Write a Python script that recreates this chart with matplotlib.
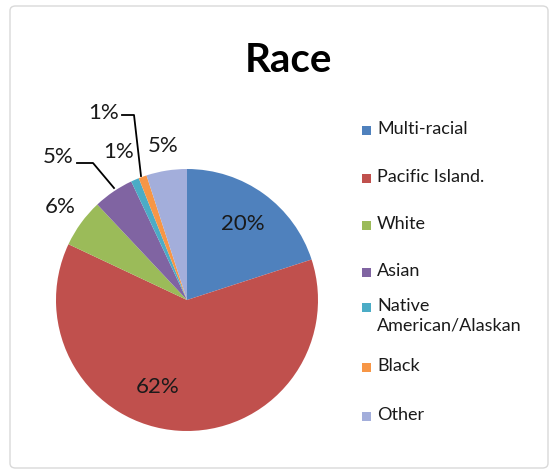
import numpy as np
import matplotlib.pyplot as plt
from matplotlib.patches import FancyBboxPatch, Rectangle

# data
races = ["Multi-racial", "Pacific Island.", "White", "Asian",
         "Native\nAmerican/Alaskan", "Black", "Other"]
shares = [20, 62, 6, 5, 1, 1, 5]
colors = ["#4F81BD", "#C0504D", "#9BBB59", "#8064A2",
          "#4BACC6", "#F79646", "#A3AEDB"]
pct_labels = ["20%", "62%", "6%", "5%", "1%", "1%", "5%"]

plt.rcParams['font.family'] = ['Lato', 'DejaVu Sans']

fig = plt.figure(figsize=(5.58, 4.74), dpi=100)
W, H = 558, 474

# light frame around the chart area
frame = FancyBboxPatch((10 / W, 6 / H), 538 / W, 462 / H,
                       boxstyle="round,pad=0,rounding_size=0.01",
                       transform=fig.transFigure, fill=False,
                       edgecolor="#D9D9D9", linewidth=1.0)
fig.patches.append(frame)

# pie: centre (187, 300) px, radius 131 px
cx, cy, r = 187, 300, 131
ax = fig.add_axes([(cx - r) / W, (H - cy - r) / H, 2 * r / W, 2 * r / H])
wedges, _ = ax.pie(shares, colors=colors, startangle=90, counterclock=False,
                   radius=1, wedgeprops=dict(linewidth=0))
ax.set_xlim(-1, 1)
ax.set_ylim(-1, 1)
ax.axis("off")


def px(x, y):
    return ((x - cx) / r, (cy - y) / r)


# label positions in pixel space (layout only)
label_pos = [(243, 224), (158, 387), (60, 207), (58, 157),
             (119, 152), (104, 113), (163, 146)]
for lab, (x, y) in zip(pct_labels, label_pos):
    ax.text(*px(x, y), lab, ha="center", va="center", fontsize=16,
            color="#1a1a1a", clip_on=False)

# leader lines for the small slices
lines = [
    [(77, 163), (93, 163), (114, 188)],   # Asian
    [(122, 115), (134, 115), (141, 176)],  # Black
]
for pts in lines:
    xs, ys = zip(*[px(a, b) for a, b in pts])
    ax.plot(xs, ys, color="black", linewidth=1.3, clip_on=False)

fig.text(288 / W, 1 - 60 / H, "Race", ha="center", va="center",
         fontsize=29, fontweight="bold")

# legend drawn by hand (Excel-style uneven spacing for the two-line entry)
leg_y = [130, 178, 225, 272, 307, 367, 416]
for name, col, y in zip(races, colors, leg_y):
    s = 9
    fig.patches.append(Rectangle((362 / W, (H - y - s / 2) / H), s / W, s / H,
                                 transform=fig.transFigure, facecolor=col,
                                 edgecolor="none"))
    fig.text(377 / W, 1 - (y - 9) / H, name, ha="left", va="top",
             fontsize=13, color="#1a1a1a", linespacing=1.3)

fig.savefig("out.png", dpi=100, facecolor="white")
